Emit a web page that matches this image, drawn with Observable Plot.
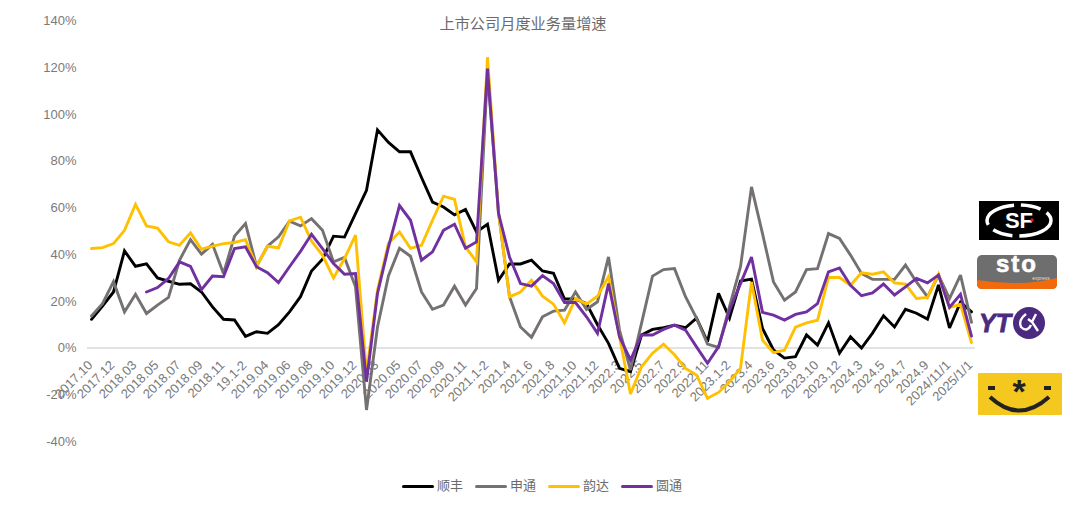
<!DOCTYPE html>
<html lang="zh">
<head>
<meta charset="utf-8">
<title>上市公司月度业务量增速</title>
<script src="https://cdn.jsdelivr.net/npm/d3@7"></script>
<script src="https://cdn.jsdelivr.net/npm/@observablehq/plot@0.6"></script>
<style>
  body {
    margin: 0;
    width: 1080px;
    height: 506px;
    position: relative;
    overflow: hidden;
    background: #fff;
    font-family: "Liberation Sans", "Noto Sans CJK SC", sans-serif;
  }
  #title {
    position: absolute;
    left: 0;
    top: 14px;
    width: 1046px;
    text-align: center;
    font-size: 15.2px;
    line-height: 20px;
    color: #6b6b6b;
  }
  #legend {
    position: absolute;
    left: 402px;
    top: 477px;
    display: flex;
    gap: 12px;
    font-size: 13px;
    line-height: 18px;
    color: #6b6b6b;
  }
  #legend div { display: flex; align-items: center; gap: 3px; }
  #legend span.swatch { display: block; width: 32px; height: 3px; border-radius: 1.5px; }
  #logos { position: absolute; left: 0; top: 0; pointer-events: none; }
  #graphic svg { display: block; }
</style>
</head>
<body>
<div id="graphic"></div>
<div id="title">上市公司月度业务量增速</div>
<div id="legend"></div>

<svg id="logos" width="1080" height="506" viewBox="0 0 1080 506">
  <!-- SF -->
  <rect x="979" y="201" width="80" height="39" fill="#000"/>
  <ellipse cx="1019" cy="220.5" rx="32" ry="15.5" fill="none" stroke="#fff" stroke-width="3.5" stroke-dasharray="38 7 20 7"/>
  <text x="1019" y="228" text-anchor="middle" font-size="22" font-weight="bold" fill="#fff">SF</text>
  <circle cx="1032" cy="220" r="1.8" fill="#e01020"/>
  <!-- STO -->
  <rect x="977" y="255" width="80" height="34" rx="5" fill="#6e6e6e"/>
  <path d="M977 280 Q1020 287 1057 278 L1057 284 Q1057 289 1052 289 L982 289 Q977 289 977 284 Z" fill="#f26a0a"/>
  <text x="1017" y="272" text-anchor="middle" font-size="24" font-weight="bold" letter-spacing="2" fill="#fff" stroke="#fff" stroke-width="0.6">sto</text>
  <text x="1041" y="280" text-anchor="middle" font-size="5" fill="#ddd">express</text>
  <!-- YTO -->
  <text x="979" y="332" font-size="25" font-weight="bold" font-style="italic" fill="#4b2a80" stroke="#4b2a80" stroke-width="0.8">YT</text>
  <circle cx="1029" cy="323" r="16" fill="#4b2a80"/>
  <path d="M1026 314 Q1018 320 1021 327 Q1027 333 1031 325 M1036 314 L1032 322 L1038 331 M1032 322 L1028 319" fill="none" stroke="#fff" stroke-width="2.4"/>
  <!-- Yunda -->
  <rect x="978" y="373" width="84" height="42" rx="1" fill="#f4c81f"/>
  <rect x="988" y="386" width="7" height="4" fill="#222"/>
  <rect x="1044" y="386" width="7" height="4" fill="#222"/>
  <text x="1019" y="403" text-anchor="middle" font-size="34" font-weight="bold" fill="#222">*</text>
  <path d="M990 397 Q1019 424 1049 397" fill="none" stroke="#222" stroke-width="4"/>
</svg>

<script>
  const categories = [
    "2017.10","2017.11","2017.12","2018.1-2","2018.03","2018.04","2018.05","2018.06","2018.07","2018.08",
    "2018.09","2018.10","2018.11","2018.12","19.1-2","2019.03","2019.04","2019.05","2019.06","2019.07",
    "2019.08","2019.09","2019.10","2019.11","2019.12","2020.1-2","2020.03","2020.04","2020.05","2020.06",
    "2020.07","2020.08","2020.09","2020.10","2020.11","2020.12","2021.1-2","2021.3","2021.4","2021.5",
    "2021.6","2021.7","2021.8","2021.9","'2021.10","'2021.11","'2021.12","2022.1-2","2022.3","2022.4",
    "2022.5","2022.6","2022.7","2022.8","2022.9","2022.10","2022.11","2022.12","2023.1-2","2023.3",
    "2023.4","2023.5","2023.6","2023.7","2023.8","2023.9","2023.10","2023.11","2023.12","2024.1-2",
    "2024.3","2024.4","2024.5","2024.6","2024.7","2024.8","2024.9","2024/10/1","2024/11/1","2024/12/1",
    "2025/1/1"
  ];

  // every second category carries a label
  const tickLabels = [
    "2017.10","2017.12","2018.03","2018.05","2018.07","2018.09","2018.11","19.1-2","2019.04","2019.06",
    "2019.08","2019.10","2019.12","2020.03","2020.05","2020.07","2020.09","2020.11","2021.1-2","2021.4",
    "2021.6","2021.8","'2021.10","'2021.12","2022.3","2022.5","2022.7","2022.9","2022.11","2023.1-2",
    "2023.4","2023.6","2023.8","2023.10","2023.12","2024.3","2024.5","2024.7","2024.9","2024/11/1",
    "2025/1/1"
  ];

  const yTicks = [-40, -20, 0, 20, 40, 60, 80, 100, 120, 140];

  const shunfeng = [
    12.3,18,24,41.6,35,36,30,28.6,27.3,27.5,
    24,17.6,12.3,12,5,7,6.3,10,15.5,22,
    33,38,47.9,47.5,57.5,67.5,93.4,88,84,84,
    73,62.5,60.4,57,59.3,49.7,53,29,36,36,
    37.6,33,32,21,21,19,10,2,-8.7,-10.1,
    5.6,8,8.7,9.8,8.7,12.8,2.7,23.4,12.8,28.7,
    29.5,8.4,-0.8,-4.3,-3.7,5.6,1.3,10.8,-2.2,4.8,
    0,6.4,13.8,9,16.6,14.9,12.4,27,8.6,19.6,
    15.5
  ];

  const shentong = [
    13.7,19,28.4,15.5,23,14.8,18.4,21.7,37.6,46.4,
    40.2,44.4,31.9,47.9,53.3,35,43.6,47.6,54.3,52.3,
    55.4,50.4,36.9,38.8,26.2,-26.5,9,31,42.7,39.3,
    24,16.6,18.4,26.5,18.4,25.5,118,58,22,9,
    4.6,13.4,15.8,16.2,24,16.5,19.8,39,7.7,-9.4,
    10.6,30.8,33.6,34,22,12.8,1.7,0.3,17.7,34.8,
    69,49,28.3,20.5,24,33.6,34,49,46.9,39.8,
    31.9,29.4,29.4,29.4,35.5,28.3,21.9,31.2,21.2,31.2,
    11
  ];

  const yunda = [
    42.6,43,44.7,50.4,61.5,52.3,51.4,45.5,44,49.3,
    42.3,43.6,44.7,45.2,46.4,35,43.6,42.9,54.4,56,
    45.8,39.7,30,38.3,48.3,-11,24.8,44.9,49.7,42.7,
    44,54.7,65,63.6,43.3,36.9,124.5,58,21.9,24,
    29,22.2,18.8,10.8,21.2,18.8,22.2,30.5,4.8,-19.7,
    -8,-2.2,1.7,-2.9,-8.7,-11.5,-21.5,-19,-14.4,-8.7,
    28.3,3.4,-2,-0.9,9,10.8,11.9,30.2,30.2,26.9,
    32.2,31.6,32.6,27.9,27.4,21.2,21.7,31.6,17.4,18.7,
    2.3
  ];

  const yuantong = [
    null,null,null,null,null,24,25.9,29.8,36.9,35,
    25,30.8,30.5,42.6,43.3,34.8,32.3,28,34.8,41.4,
    48.7,42.6,36.2,31.6,31.9,-14.4,23.4,43.3,61,54.7,
    37.6,41.2,50.4,53,42.7,45.4,119.6,57.7,39,27.6,
    26.5,31,27.6,19.5,19.5,13.4,6.3,27.6,4.8,-5.1,
    5.6,5.6,8,9.8,7.7,0.5,-6.5,0.5,16.2,27.6,
    39,15.3,14.1,12,14.4,15.5,19,32.6,34.3,26.9,
    22.4,23.6,27.4,22.7,26.2,29.8,27.9,31.2,17.4,23,
    5.1
  ];

  const names = ["顺丰", "申通", "韵达", "圆通"];
  const colors = ["#000000", "#767171", "#FFC000", "#7030A0"];
  const seriesValues = [shunfeng, shentong, yunda, yuantong];

  const chart = Plot.plot({
    width: 1080,
    height: 460,
    marginTop: 20.5,
    marginBottom: 19,
    marginLeft: 87,
    marginRight: 105,
    style: {fontFamily: "'Liberation Sans', sans-serif", fontSize: "13px", color: "#7a7a7a", background: "transparent"},
    x: {type: "point", domain: categories, padding: 0.36, axis: null},
    y: {domain: [-40, 140]},
    marks: [
      Plot.axisY(yTicks, {anchor: "left", tickSize: 0, tickPadding: 11, tickFormat: d => d + "%", label: null, fill: "#7a7a7a"}),
      Plot.ruleY([0], {stroke: "#d9d9d9", strokeWidth: 1.5}),
      Plot.text(tickLabels, {
        x: d => d,
        y: tickLabels.map(() => 0),
        text: d => d,
        rotate: -45,
        textAnchor: "end",
        dx: -1,
        dy: 15,
        fill: "#7a7a7a",
        fontSize: 13
      }),
      ...seriesValues.map((values, i) =>
        Plot.line(values, {x: categories, y: d => d, stroke: colors[i], strokeWidth: 2.9, strokeLinejoin: "miter", strokeMiterlimit: 3})
      )
    ]
  });
  document.getElementById("graphic").appendChild(chart);

  const legend = document.getElementById("legend");
  names.forEach((name, i) => {
    const item = document.createElement("div");
    const swatch = document.createElement("span");
    swatch.className = "swatch";
    swatch.style.background = colors[i];
    const label = document.createElement("span");
    label.textContent = name;
    item.append(swatch, label);
    legend.append(item);
  });
</script>
</body>
</html>
